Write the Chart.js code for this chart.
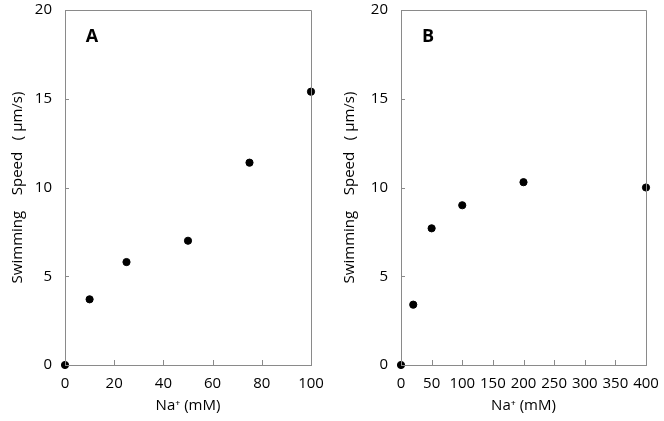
<!DOCTYPE html>
<html>
<head>
<meta charset="utf-8">
<script src="https://cdn.jsdelivr.net/npm/chart.js@4.4.1/dist/chart.umd.min.js"></script>
<style>
    html, body { margin: 0; padding: 0; background: #fff; }
    #wrap { position: relative; width: 664px; height: 421px; }
    canvas { position: absolute; top: 0; }
    #chartA { left: 0; }
    #chartB { left: 332px; }
</style>
</head>
<body>
<div id="wrap">
    <canvas id="chartA" width="332" height="421"></canvas>
    <canvas id="chartB" width="332" height="421"></canvas>
</div>
<script>
// Panel A: Na+ 0-100 mM
const naA = [0, 10, 25, 50, 75, 100];
const speedA = [0, 3.7, 5.8, 7.0, 11.4, 15.4];

// Panel B: Na+ 0-400 mM
const naB = [0, 20, 50, 100, 200, 400];
const speedB = [0, 3.4, 7.7, 9.0, 10.3, 10.0];

const xTicksA = [0, 20, 40, 60, 80, 100];
const xTicksB = [0, 50, 100, 150, 200, 250, 300, 350, 400];
const yTicks = [0, 5, 10, 15, 20];

const AXIS = "#8a8a8a";
const FONT = "'Open Sans', 'DejaVu Sans', sans-serif";

// frame on top/right + inward tick marks + panel letter
const framePlugin = {
    id: "frame",
    afterDraw(chart, args, opts) {
        const ctx = chart.ctx;
        const a = chart.chartArea;
        ctx.save();
        ctx.strokeStyle = AXIS;
        ctx.lineWidth = 1;
        ctx.beginPath();
        ctx.moveTo(a.left, a.top + 0.5);
        ctx.lineTo(a.right + 0.5, a.top + 0.5);
        ctx.lineTo(a.right + 0.5, a.bottom);
        ctx.stroke();

        const xs = chart.scales.x, ys = chart.scales.y;
        ctx.beginPath();
        xs.ticks.forEach(t => {
            const px = Math.round(xs.getPixelForValue(t.value)) + 0.5;
            ctx.moveTo(px, a.bottom);
            ctx.lineTo(px, a.bottom - 5);
        });
        ys.ticks.forEach(t => {
            const py = Math.round(ys.getPixelForValue(t.value)) + 0.5;
            ctx.moveTo(a.left, py);
            ctx.lineTo(a.left + 4, py);
        });
        ctx.stroke();

        ctx.fillStyle = "#000";
        ctx.font = "bold 18px " + FONT;
        ctx.textAlign = "center";
        ctx.textBaseline = "middle";
        ctx.fillText(opts.letter, a.left + opts.dx, a.top + 27);
        ctx.restore();
    }
};

function makeChart(id, xs, ys, xTicks, xMax, letter, axisW, padRight, dx) {
    const pts = xs.map((x, i) => ({ x: x, y: ys[i] }));
    return new Chart(document.getElementById(id), {
        type: "scatter",
        data: {
            datasets: [{
                data: pts,
                backgroundColor: "#000",
                borderColor: "#000",
                pointRadius: 3.6,
                pointHoverRadius: 3.6,
                clip: false
            }]
        },
        options: {
            responsive: false,
            animation: false,
            devicePixelRatio: 1,
            layout: { padding: { top: 10, right: padRight, bottom: 0, left: 0 } },
            plugins: {
                legend: { display: false },
                tooltip: { enabled: false },
                frame: { letter: letter, dx: dx }
            },
            scales: {
                x: {
                    type: "linear",
                    min: 0,
                    max: xMax,
                    afterBuildTicks: s => { s.ticks = xTicks.map(v => ({ value: v })); },
                    afterFit: s => { s.height = 56; s.paddingLeft = 0; s.paddingRight = 0; },
                    grid: { display: false, drawTicks: false },
                    border: { display: true, color: AXIS, width: 1 },
                    ticks: { color: "#000", padding: 10, maxRotation: 0, autoSkip: false,
                             font: { family: FONT, size: 15 } },
                    title: { display: true, text: "Na\u207A (mM)", color: "#000",
                             padding: { top: 0, bottom: 6 },
                             font: { family: FONT, size: 15 } }
                },
                y: {
                    min: 0,
                    max: 20,
                    afterBuildTicks: s => { s.ticks = yTicks.map(v => ({ value: v })); },
                    afterFit: s => { s.width = axisW; s.paddingTop = 0; s.paddingBottom = 0; },
                    grid: { display: false, drawTicks: false },
                    border: { display: true, color: AXIS, width: 1 },
                    ticks: { color: "#000", padding: 13,
                             font: { family: FONT, size: 15 } },
                    title: { display: true, text: "Swimming    Speed   ( \u03BCm/s)", color: "#000",
                             padding: { top: 9, bottom: 0 },
                             font: { family: FONT, size: 15 } }
                }
            }
        },
        plugins: [framePlugin]
    });
}

makeChart("chartA", naA, speedA, xTicksA, 100, "A", 65, 21, 27);
makeChart("chartB", naB, speedB, xTicksB, 400, "B", 69, 18, 27);
</script>
</body>
</html>
